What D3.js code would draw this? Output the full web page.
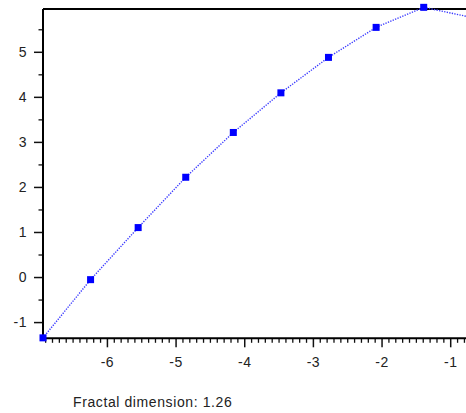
<!DOCTYPE html>
<html>
<head>
<meta charset="utf-8">
<script src="https://cdn.jsdelivr.net/npm/d3@7"></script>
<style>
  html, body { margin: 0; padding: 0; background: #fff; }
  svg { display: block; }
  text { font-family: "Liberation Sans", Arial, sans-serif; fill: #222; }
</style>
</head>
<body>
<script>
// ---- data ----
const xValues = [-6.931, -6.238, -5.545, -4.852, -4.159, -3.466, -2.773, -2.079, -1.386, -0.693];
const yValues = [-1.35, -0.058, 1.098, 2.215, 3.209, 4.089, 4.876, 5.542, 5.987, 5.764];
const xTickValues = [-6, -5, -4, -3, -2, -1];
const yTickValues = [-1, 0, 1, 2, 3, 4, 5];
const footerText = "Fractal dimension: 1.26";

const W = 466, H = 413;
const svg = d3.select("body").append("svg").attr("width", W).attr("height", H);

const x = d3.scaleLinear().domain([-6.931, -0.77]).range([43, 466]);
const y = d3.scaleLinear().domain([-1.36, 5.95]).range([338.3, 9]);

const fmt = d => String(d); // plain hyphen-minus like the reference

const xMinor = d3.range(-69, -7).map(d => d / 10).filter(d => d >= x.domain()[0] && Math.abs(d - Math.round(d)) > 1e-9);
const yMinor = d3.range(-2, 12).map(d => d / 2).filter(d => Math.abs(d - Math.round(d)) > 1e-9 && d >= y.domain()[0] && d <= y.domain()[1]);

// minor ticks
const gxMinor = svg.append("g").attr("transform", `translate(0,${y.range()[0]})`)
  .call(d3.axisBottom(x).tickValues(xMinor).tickSize(4.5).tickFormat(""));
const gyMinor = svg.append("g").attr("transform", `translate(${x.range()[0]},0)`)
  .call(d3.axisLeft(y).tickValues(yMinor).tickSize(4.5).tickFormat(""));

// major ticks
const gx = svg.append("g").attr("transform", `translate(0,${y.range()[0]})`)
  .call(d3.axisBottom(x).tickValues(xTickValues).tickSize(9).tickPadding(10).tickFormat(fmt));
const gy = svg.append("g").attr("transform", `translate(${x.range()[0]},0)`)
  .call(d3.axisLeft(y).tickValues(yTickValues).tickSize(9).tickPadding(7).tickFormat(fmt));

[gxMinor, gyMinor, gx, gy].forEach(g => {
  g.select(".domain").remove();
  g.selectAll(".tick line").attr("stroke", "#111").attr("stroke-width", 1.3);
  g.selectAll(".tick text").attr("font-size", 14).attr("fill", "#222")
    .attr("letter-spacing", 0.5)
    .style("font-family", '"Liberation Sans", Arial, sans-serif');
});
gx.selectAll(".tick line").attr("stroke-width", 1.5);
gy.selectAll(".tick line").attr("stroke-width", 1.5);

// axis frame lines
svg.append("line").attr("x1", x.range()[0]).attr("x2", W).attr("y1", y.range()[0]).attr("y2", y.range()[0])
  .attr("stroke", "#000").attr("stroke-width", 2);
svg.append("line").attr("x1", x.range()[0]).attr("x2", x.range()[0]).attr("y1", y.range()[1]).attr("y2", y.range()[0])
  .attr("stroke", "#000").attr("stroke-width", 2);
svg.append("line").attr("x1", x.range()[0]).attr("x2", W).attr("y1", y.range()[1]).attr("y2", y.range()[1])
  .attr("stroke", "#000").attr("stroke-width", 2);

// series
const pts = xValues.map((v, i) => [v, yValues[i]]);
svg.append("path")
  .attr("d", d3.line().x(d => x(d[0])).y(d => y(d[1]))(pts))
  .attr("fill", "none").attr("stroke", "#3a3aff").attr("stroke-width", 1.4)
  .attr("stroke-dasharray", "1.3,1.3");

svg.append("g").selectAll("rect").data(pts).join("rect")
  .attr("x", d => x(d[0]) - 3.5).attr("y", d => y(d[1]) - 3.5)
  .attr("width", 7).attr("height", 7).attr("fill", "#0000ff");

// footer
svg.append("text").attr("x", 73).attr("y", 407).attr("font-size", 14).attr("letter-spacing", 0.6).attr("fill", "#222")
  .text(footerText);
</script>
</body>
</html>
